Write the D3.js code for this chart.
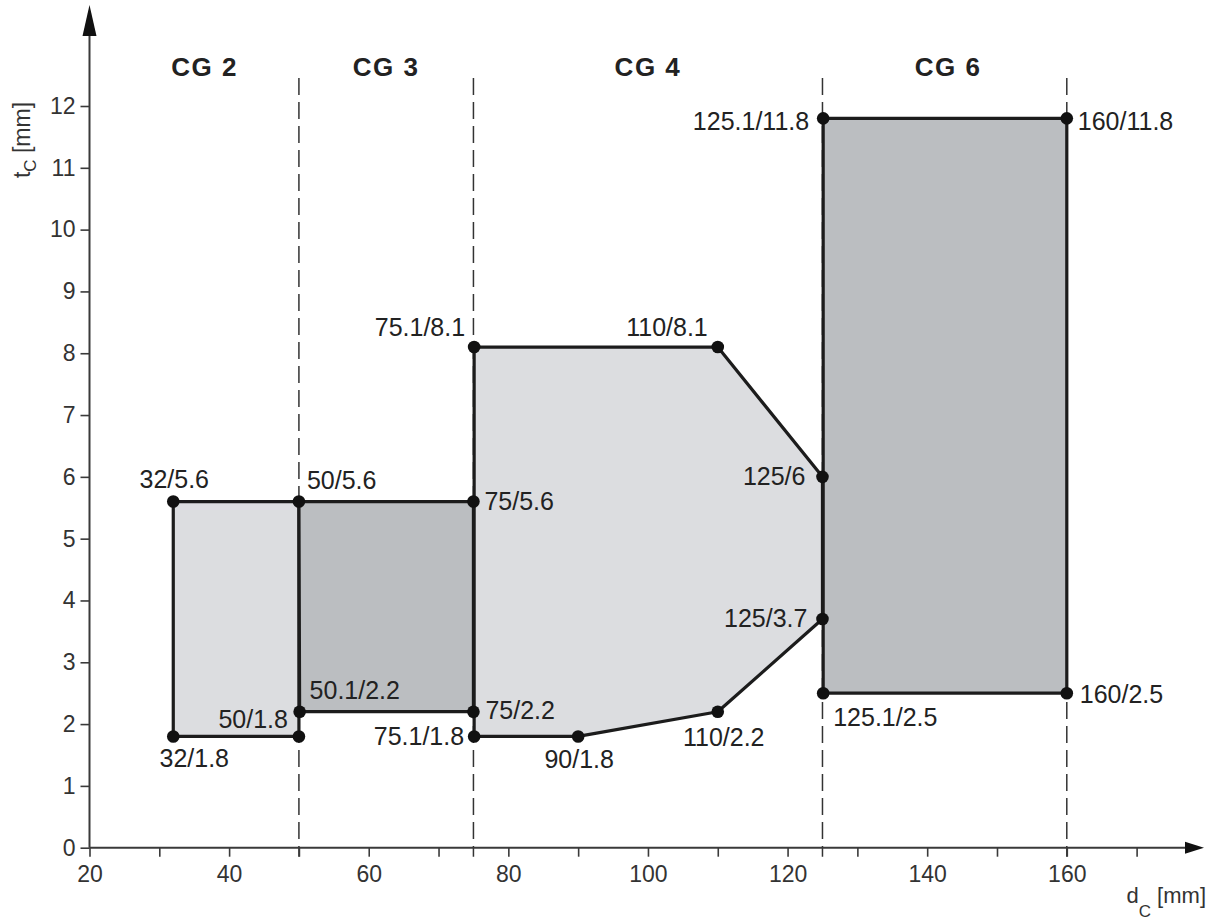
<!DOCTYPE html>
<html><head><meta charset="utf-8">
<script src="https://cdn.jsdelivr.net/npm/d3@7"></script>
<style>
html,body{margin:0;padding:0;background:#fff;}
svg{display:block;font-family:"Liberation Sans",Arial,sans-serif;}
</style></head>
<body>
<svg id="c" width="1217" height="924"></svg>
<script>
// ---- data ----
const xTicks = [20,30,40,50,60,70,80,90,100,110,120,130,140,150,160,170];
const xTickLabels = [20,40,60,80,100,120,140,160];
const yTicks = [0,1,2,3,4,5,6,7,8,9,10,11,12];
const groupBounds = [50,75,125,160];
const groupNames = ["CG 2","CG 3","CG 4","CG 6"];
const groupCenters = [36.5,62.5,100,143];

const cg2 = [[32,1.8],[50,1.8],[50,5.6],[32,5.6]];
const cg3 = [[50.1,2.2],[75,2.2],[75,5.6],[50,5.6]];
const cg4 = [[75.1,1.8],[90,1.8],[110,2.2],[125,3.7],[125,6],[110,8.1],[75.1,8.1]];
const cg6 = [[125.1,2.5],[160,2.5],[160,11.8],[125.1,11.8]];
const polyShade = ["light","dark","light","dark"];

const pointX = [32,32,50,50,50.1,75,75,75.1,75.1,90,110,110,125,125,125.1,125.1,160,160];
const pointY = [5.6,1.8,5.6,1.8,2.2,5.6,2.2,8.1,1.8,1.8,8.1,2.2,6,3.7,11.8,2.5,11.8,2.5];
const pointLabels = ["32/5.6","32/1.8","50/5.6","50/1.8","50.1/2.2","75/5.6","75/2.2","75.1/8.1","75.1/1.8","90/1.8","110/8.1","110/2.2","125/6","125/3.7","125.1/11.8","125.1/2.5","160/11.8","160/2.5"];

// ---- label placement (style) ----
const place = {
  "32/5.6":    {a:"middle", dx:1,  dy:-14},
  "32/1.8":    {a:"middle", dx:21, dy:31},
  "50/5.6":    {a:"start",  dx:8,  dy:-13},
  "50/1.8":    {a:"end",    dx:-11,dy:-8},
  "50.1/2.2":  {a:"start",  dx:10, dy:-13},
  "75/5.6":    {a:"start",  dx:11, dy:8},
  "75/2.2":    {a:"start",  dx:12, dy:7},
  "75.1/8.1":  {a:"end",    dx:-9, dy:-11},
  "75.1/1.8":  {a:"end",    dx:-10,dy:9},
  "90/1.8":    {a:"middle", dx:1,  dy:32},
  "110/8.1":   {a:"end",    dx:-10,dy:-11},
  "110/2.2":   {a:"middle", dx:6,  dy:34},
  "125/6":     {a:"end",    dx:-17,dy:8},
  "125/3.7":   {a:"end",    dx:-15,dy:8},
  "125.1/11.8":{a:"end",    dx:-14,dy:12},
  "125.1/2.5": {a:"start",  dx:10, dy:33},
  "160/11.8":  {a:"start",  dx:11, dy:12},
  "160/2.5":   {a:"start",  dx:13, dy:10}
};

const svg = d3.select("#c");
const x = d3.scaleLinear().domain([20,160]).range([89.5,1066.8]);
const y = d3.scaleLinear().domain([0,12]).range([847.7,106]);
const axisCol = "#3a3a3a", ink = "#1c1c1c";
const fills = {light:"#dcdde0", dark:"#bbbec1"};

// dashed group boundaries
svg.append("g").selectAll("line").data(groupBounds).join("line")
  .attr("x1",d=>x(d)).attr("x2",d=>x(d))
  .attr("y1",y(12)-28).attr("y2",y(0)+9)
  .attr("stroke","#333").attr("stroke-width",1.5).attr("stroke-dasharray","17,7");

// polygons
const line = d3.line().x(d=>x(d[0])).y(d=>y(d[1])).curve(d3.curveLinearClosed);
const polys = [cg2,cg3,cg4,cg6];
svg.append("g").selectAll("path").data(polys).join("path")
  .attr("d",d=>line(d))
  .attr("fill",(d,i)=>fills[polyShade[i]])
  .attr("stroke",ink).attr("stroke-width",3.2).attr("stroke-linejoin","round");

// axes
const xAxis = d3.axisBottom(x).tickValues(xTicks).tickSize(9).tickSizeOuter(0)
  .tickFormat(d=>xTickLabels.includes(d)?d:"");
const gx = svg.append("g").attr("transform",`translate(0,${y(0)})`).call(xAxis);
gx.attr("font-size",null).attr("font-family",null);
gx.select(".domain").remove();
gx.selectAll(".tick line").attr("stroke",axisCol).attr("stroke-width",1.6);
gx.selectAll(".tick text").style("font-size","23px").attr("fill","#333").attr("dy","0.95em");
// x axis line + arrow
svg.append("line").attr("x1",x(20)).attr("x2",1190).attr("y1",y(0)).attr("y2",y(0))
  .attr("stroke",axisCol).attr("stroke-width",2);
svg.append("path").attr("d",`M1204,${y(0)} L1185,${y(0)-6} L1185,${y(0)+6} Z`).attr("fill","#111");

const yAxis = d3.axisLeft(y).tickValues(yTicks).tickSize(9).tickSizeOuter(0);
const gy = svg.append("g").attr("transform",`translate(${x(20)},0)`).call(yAxis);
gy.attr("font-size",null).attr("font-family",null);
gy.select(".domain").remove();
gy.selectAll(".tick line").attr("stroke",axisCol).attr("stroke-width",1.6);
gy.selectAll(".tick text").style("font-size","23px").attr("fill","#333").attr("x",-14);
svg.append("line").attr("x1",x(20)).attr("x2",x(20)).attr("y1",y(0)).attr("y2",25)
  .attr("stroke",axisCol).attr("stroke-width",2);
svg.append("path").attr("d",`M${x(20)},5 L${x(20)-7},36 L${x(20)+7},36 Z`).attr("fill","#111");

// points
svg.append("g").selectAll("circle").data(pointX).join("circle")
  .attr("cx",d=>x(d)).attr("cy",(d,i)=>y(pointY[i])).attr("r",6.3).attr("fill","#111");

// point labels
svg.append("g").selectAll("text").data(pointLabels).join("text")
  .attr("x",(d,i)=>x(pointX[i])+place[d].dx)
  .attr("y",(d,i)=>y(pointY[i])+place[d].dy)
  .attr("text-anchor",d=>place[d].a)
  .attr("font-size",25).attr("fill","#222")
  .text(d=>d);

// group names
svg.append("g").selectAll("text").data(groupNames).join("text")
  .attr("x",(d,i)=>x(groupCenters[i])).attr("y",76)
  .attr("text-anchor","middle").attr("font-size",26).attr("font-weight","bold")
  .attr("letter-spacing",1.5).attr("fill","#222").text(d=>d);

// axis titles
const yt = svg.append("text").attr("transform","translate(30,140) rotate(-90)")
  .attr("text-anchor","middle").attr("font-size",23).attr("fill","#333");
yt.append("tspan").text("t");
yt.append("tspan").attr("font-size",17).attr("dy",6).text("C");
yt.append("tspan").attr("dy",-6).text(" [mm]");

const xt = svg.append("text").attr("x",1206).attr("y",903)
  .attr("text-anchor","end").attr("font-size",22).attr("fill","#333");
xt.append("tspan").text("d");
xt.append("tspan").attr("font-size",17).attr("dy",14).text("C");
xt.append("tspan").attr("dy",-14).text(" [mm]");
</script>
</body></html>
